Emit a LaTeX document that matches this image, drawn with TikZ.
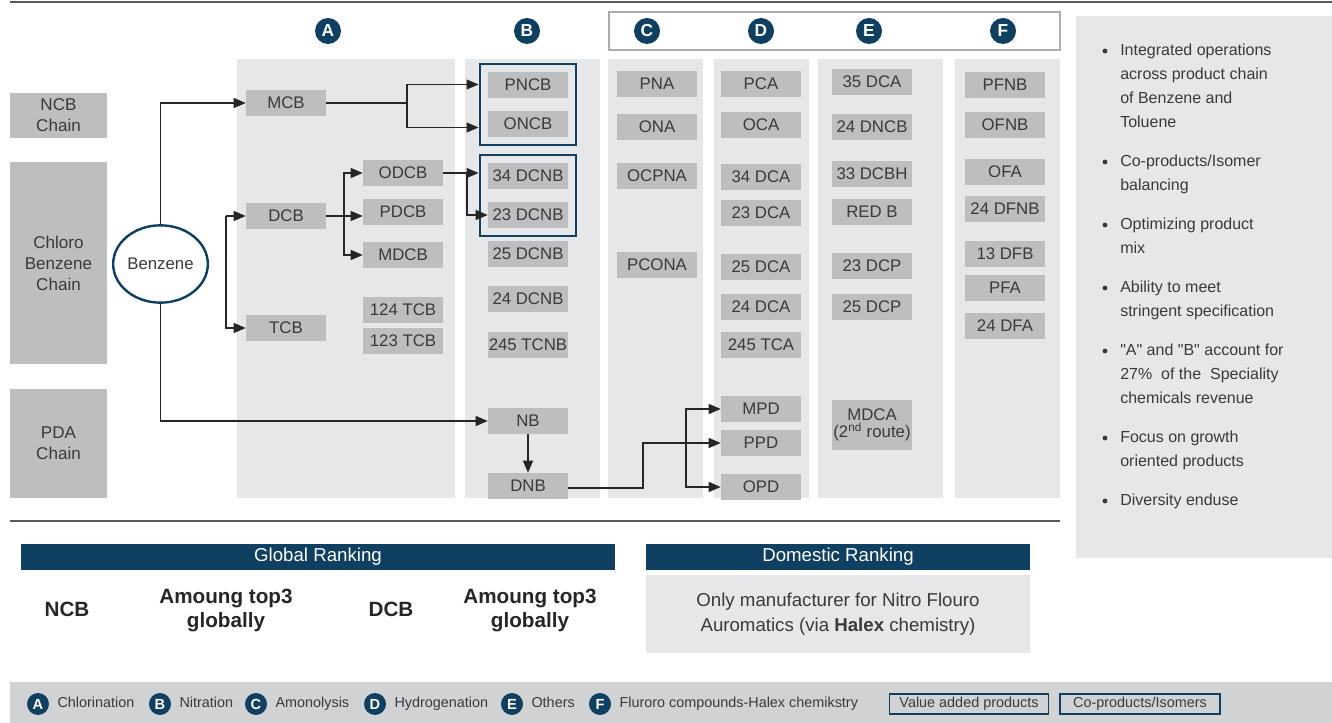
\documentclass[tikz,border=0pt]{standalone}
\usepackage{fontspec}
\setmainfont{Liberation Sans}
\usetikzlibrary{arrows.meta,positioning,calc,fit,shapes.geometric}
\definecolor{hlNavy}{HTML}{0F3F61}
\definecolor{hlBox}{HTML}{BCBEC0}
\definecolor{hlCol}{HTML}{E6E7E8}
\definecolor{hlBar}{HTML}{D1D2D4}
\definecolor{hlText}{HTML}{3A3A3A}
\definecolor{hlRule}{HTML}{58595B}

\begin{document}
\begin{tikzpicture}[x=0.75pt, y=-0.75pt,
        node distance=5pt,
        prod/.style={fill=hlBox, text=hlText, minimum width=60pt, minimum height=19.5pt,
                     inner sep=0pt, align=center, font=\fontsize{12.6}{13}\selectfont},
        chain/.style={fill=hlBox, text=hlText, minimum width=73pt, inner sep=0pt,
                      align=center, font=\fontsize{12.8}{15.75}\selectfont},
        letter/.style={circle, fill=hlNavy, text=white, minimum size=19.5pt, inner sep=0pt,
                       font=\bfseries\fontsize{13}{13}\selectfont},
        legletter/.style={letter, minimum size=16.5pt, font=\bfseries\fontsize{11}{11}\selectfont},
        legtext/.style={text=hlText, inner sep=0pt, text height=8pt, text depth=2.2pt,
                        font=\fontsize{10.8}{12}\selectfont},
        keybox/.style={draw=hlNavy, line width=0.8pt, minimum height=15pt, inner sep=0pt,
                       text height=8pt, text depth=2.2pt, text=hlText, font=\fontsize{10.8}{12}\selectfont},
        grpbox/.style={draw=hlNavy, line width=1.8pt, inner sep=6pt},
        arr/.style={-{Triangle[length=9pt,width=7.5pt]}, line width=0.9pt, draw=black!85},
        link/.style={line width=0.9pt, draw=black!85},
        header/.style={fill=hlNavy, text=white, minimum height=19.5pt, inner sep=0pt,
                       font=\fontsize{14}{15}\selectfont},
        rank/.style={text=black!85, align=center, font=\bfseries\fontsize{15.5}{18}\selectfont},
        point/.style={text=hlText, align=left, anchor=north west, inner sep=0pt,
                      font=\fontsize{12}{18}\selectfont}
      ]
        \useasboundingbox (0,0) rectangle (1332,723);

        % rules and column backgrounds
        \draw[hlRule, line width=1.5pt] (10,2) -- (1332,2);
        \draw[hlRule, line width=1pt] (10,521) -- (1060,521);
        \foreach \xa/\xb in {237/455, 465/600, 608/703, 714/809, 818/943, 955/1060}
          \fill[hlCol] (\xa,59) rectangle (\xb,498);
        \draw[hlRule!50, line width=1pt] (609,12) rectangle (1060,50);
        \fill[hlCol] (1076,16) rectangle (1332,558);

        % process letters
        \node[letter] (colA) at (328,31) {A};
        \node[letter] (colB) at (527,31) {B};
        \node[letter] (colC) at (647,31) {C};
        \node[letter] (colD) at (761,31) {D};
        \node[letter] (colE) at (869,31) {E};
        \node[letter] (colF) at (1003,31) {F};

        % chains
        \node[chain, minimum height=33.75pt] (ncbchain) at (58.5,115.5) {NCB\\Chain};
        \node[chain, minimum height=151.5pt] (clchain) at (58.5,263) {Chloro\\Benzene\\Chain};
        \node[chain, minimum height=81.75pt] (pdachain) at (58.5,443.5) {PDA\\Chain};
        \node[ellipse, draw=hlNavy, line width=1.8pt, fill=white, text=hlText,
              minimum width=71pt, minimum height=58pt, inner sep=0pt,
              font=\fontsize{12.6}{13}\selectfont] (benz) at (160.5,264) {Benzene};

        % A: chlorination
        \node[prod] (mcb) at (286,103) {MCB};
        \node[prod] (dcb) at (286,216) {DCB};
        \node[prod] (tcb) at (286,328) {TCB};
        \node[prod] (odcb) at (403,173) {ODCB};
        \node[prod] (pdcb) at (403,212) {PDCB};
        \node[prod] (mdcb) at (403,255) {MDCB};
        \node[prod] (tcbone) at (403,310) {124 TCB};
        \node[prod] (tcbtwo) at (403,341) {123 TCB};

        % B: nitration
        \node[prod] (pncb) at (528,85) {PNCB};
        \node[prod] (oncb) at (528,124) {ONCB};
        \node[prod] (dcnbone) at (528,176) {34 DCNB};
        \node[prod] (dcnbtwo) at (528,215) {23 DCNB};
        \node[prod] (dcnbthree) at (528,254) {25 DCNB};
        \node[prod] (dcnbfour) at (528,299) {24 DCNB};
        \node[prod] (tcnb) at (528,345) {245 TCNB};
        \node[prod] (nb) at (528,421) {NB};
        \node[prod] (dnb) at (528,486) {DNB};
        \node[grpbox, fit=(pncb)(oncb)] (grpone) {};
        \node[grpbox, fit=(dcnbone)(dcnbtwo)] (grptwo) {};

        % C: amonolysis
        \node[prod] (pna) at (657,84) {PNA};
        \node[prod] (ona) at (657,127) {ONA};
        \node[prod] (ocpna) at (657,176) {OCPNA};
        \node[prod] (pcona) at (657,265) {PCONA};

        % D: hydrogenation
        \node[prod] (pca) at (761,84) {PCA};
        \node[prod] (oca) at (761,125) {OCA};
        \node[prod] (dcaone) at (761,177) {34 DCA};
        \node[prod] (dcatwo) at (761,213) {23 DCA};
        \node[prod] (dcathree) at (761,267) {25 DCA};
        \node[prod] (dcafour) at (761,307) {24 DCA};
        \node[prod] (tca) at (761,345) {245 TCA};
        \node[prod] (mpd) at (761,409) {MPD};
        \node[prod] (ppd) at (761,443) {PPD};
        \node[prod] (opd) at (761,487) {OPD};

        % E: others
        \node[prod] (dcafive) at (872,82) {35 DCA};
        \node[prod] (dncb) at (872,127) {24 DNCB};
        \node[prod] (dcbh) at (872,174) {33 DCBH};
        \node[prod] (redb) at (872,212) {RED B};
        \node[prod] (dcpone) at (872,266) {23 DCP};
        \node[prod] (dcptwo) at (872,307) {25 DCP};
        \node[prod, minimum height=37.5pt] (mdca) at (872,425) {MDCA\\(2\textsuperscript{nd} route)};

        % F: fluoro compounds
        \node[prod] (pfnb) at (1005,85) {PFNB};
        \node[prod] (ofnb) at (1005,125) {OFNB};
        \node[prod] (ofa) at (1005,172) {OFA};
        \node[prod] (dfnb) at (1005,209) {24 DFNB};
        \node[prod] (dfb) at (1005,254) {13 DFB};
        \node[prod] (pfa) at (1005,288) {PFA};
        \node[prod] (dfa) at (1005,326) {24 DFA};

        % connectors
        \coordinate (dsplit) at (226,216);
        \coordinate (msplit) at (407,103);
        \coordinate (bsplit) at (344,216);
        \coordinate (osplit) at (467,173);
        \coordinate (pjog) at (643,488);
        \coordinate (psplit) at (686,443);
        \draw[arr] (benz.north) |- (mcb.west);
        \draw[arr] (benz.south) |- (nb.west);
        \draw[arr] (dsplit) -- (dcb.west);
        \draw[arr] (dsplit) |- (tcb.west);
        \draw[link] (mcb.east) -- (msplit);
        \draw[arr] (msplit) |- ($(grpone.west)+(0,-20)$);
        \draw[arr] (msplit) |- ($(grpone.west)+(0,23)$);
        \draw[link] (dcb.east) -- (bsplit);
        \draw[arr] (bsplit) |- (odcb.west);
        \draw[arr] (bsplit) -- (bsplit -| pdcb.west);
        \draw[arr] (bsplit) |- (mdcb.west);
        \draw[arr] (odcb.east) -- (odcb.east -| grptwo.west);
        \draw[arr] (osplit) |- (dcnbtwo.west);
        \draw[arr] (nb) -- (dnb);
        \draw[arr] (dnb.east |- pjog) -- (pjog) |- (ppd.west);
        \draw[arr] (psplit) |- (mpd.west);
        \draw[arr] (psplit) |- (opd.west);

        % key points
        \foreach \yy/\txt in {44/{Integrated operations\\across product chain\\of Benzene and\\Toluene},
                              155/{Co-products/Isomer\\balancing},
                              218/{Optimizing product\\mix},
                              281/{Ability to meet\\stringent specification},
                              344/{\textquotedbl A\textquotedbl\ and \textquotedbl B\textquotedbl\ account for\\27\%\ \ of the\ \ Speciality\\chemicals revenue},
                              431/{Focus on growth\\oriented products},
                              494/{Diversity enduse}} {
          \fill[hlText] (1105,\yy+7) circle (2.4);
          \node[point] at (1120,\yy) {\txt};
        }

        % rankings
        \node[header, minimum width=445.5pt] (glob) at (318,557) {Global Ranking};
        \node[header, minimum width=288pt] (dom) at (838,557) {Domestic Ranking};
        \node[fill=hlCol, minimum width=288pt, minimum height=58.5pt, inner sep=0pt, text=hlText,
              align=center, font=\fontsize{14}{19}\selectfont] (dombody) at (838,614)
              {Only manufacturer for Nitro Flouro\\Auromatics (via \textbf{Halex} chemistry)};
        \node[rank] (ncbrank) at (67,609) {NCB};
        \node[rank] (ncbtop) at (226,610) {Amoung top3\\globally};
        \node[rank] (dcbrank) at (391,609) {DCB};
        \node[rank] (dcbtop) at (530,610) {Amoung top3\\globally};

        % legend
        \fill[hlBar] (10,682) rectangle (1332,723);
        \node[legletter] (lgA) at (38,704) {A};
        \node[legtext, right=6pt of lgA] (ltA) {Chlorination};
        \node[legletter] (lgB) at (160,704) {B};
        \node[legtext, right=6pt of lgB] (ltB) {Nitration};
        \node[legletter] (lgC) at (256,704) {C};
        \node[legtext, right=6pt of lgC] (ltC) {Amonolysis};
        \node[legletter] (lgD) at (375,704) {D};
        \node[legtext, right=6pt of lgD] (ltD) {Hydrogenation};
        \node[legletter] (lgE) at (512,704) {E};
        \node[legtext, right=6pt of lgE] (ltE) {Others};
        \node[legletter] (lgF) at (600,704) {F};
        \node[legtext, right=6pt of lgF] (ltF) {Fluroro compounds-Halex chemikstry};
        \node[keybox, minimum width=119pt] (keyval) at (969,704) {Value added products};
        \node[keybox, minimum width=120pt] (keyco) at (1140,704) {Co-products/Isomers};
      \end{tikzpicture}
\end{document}
